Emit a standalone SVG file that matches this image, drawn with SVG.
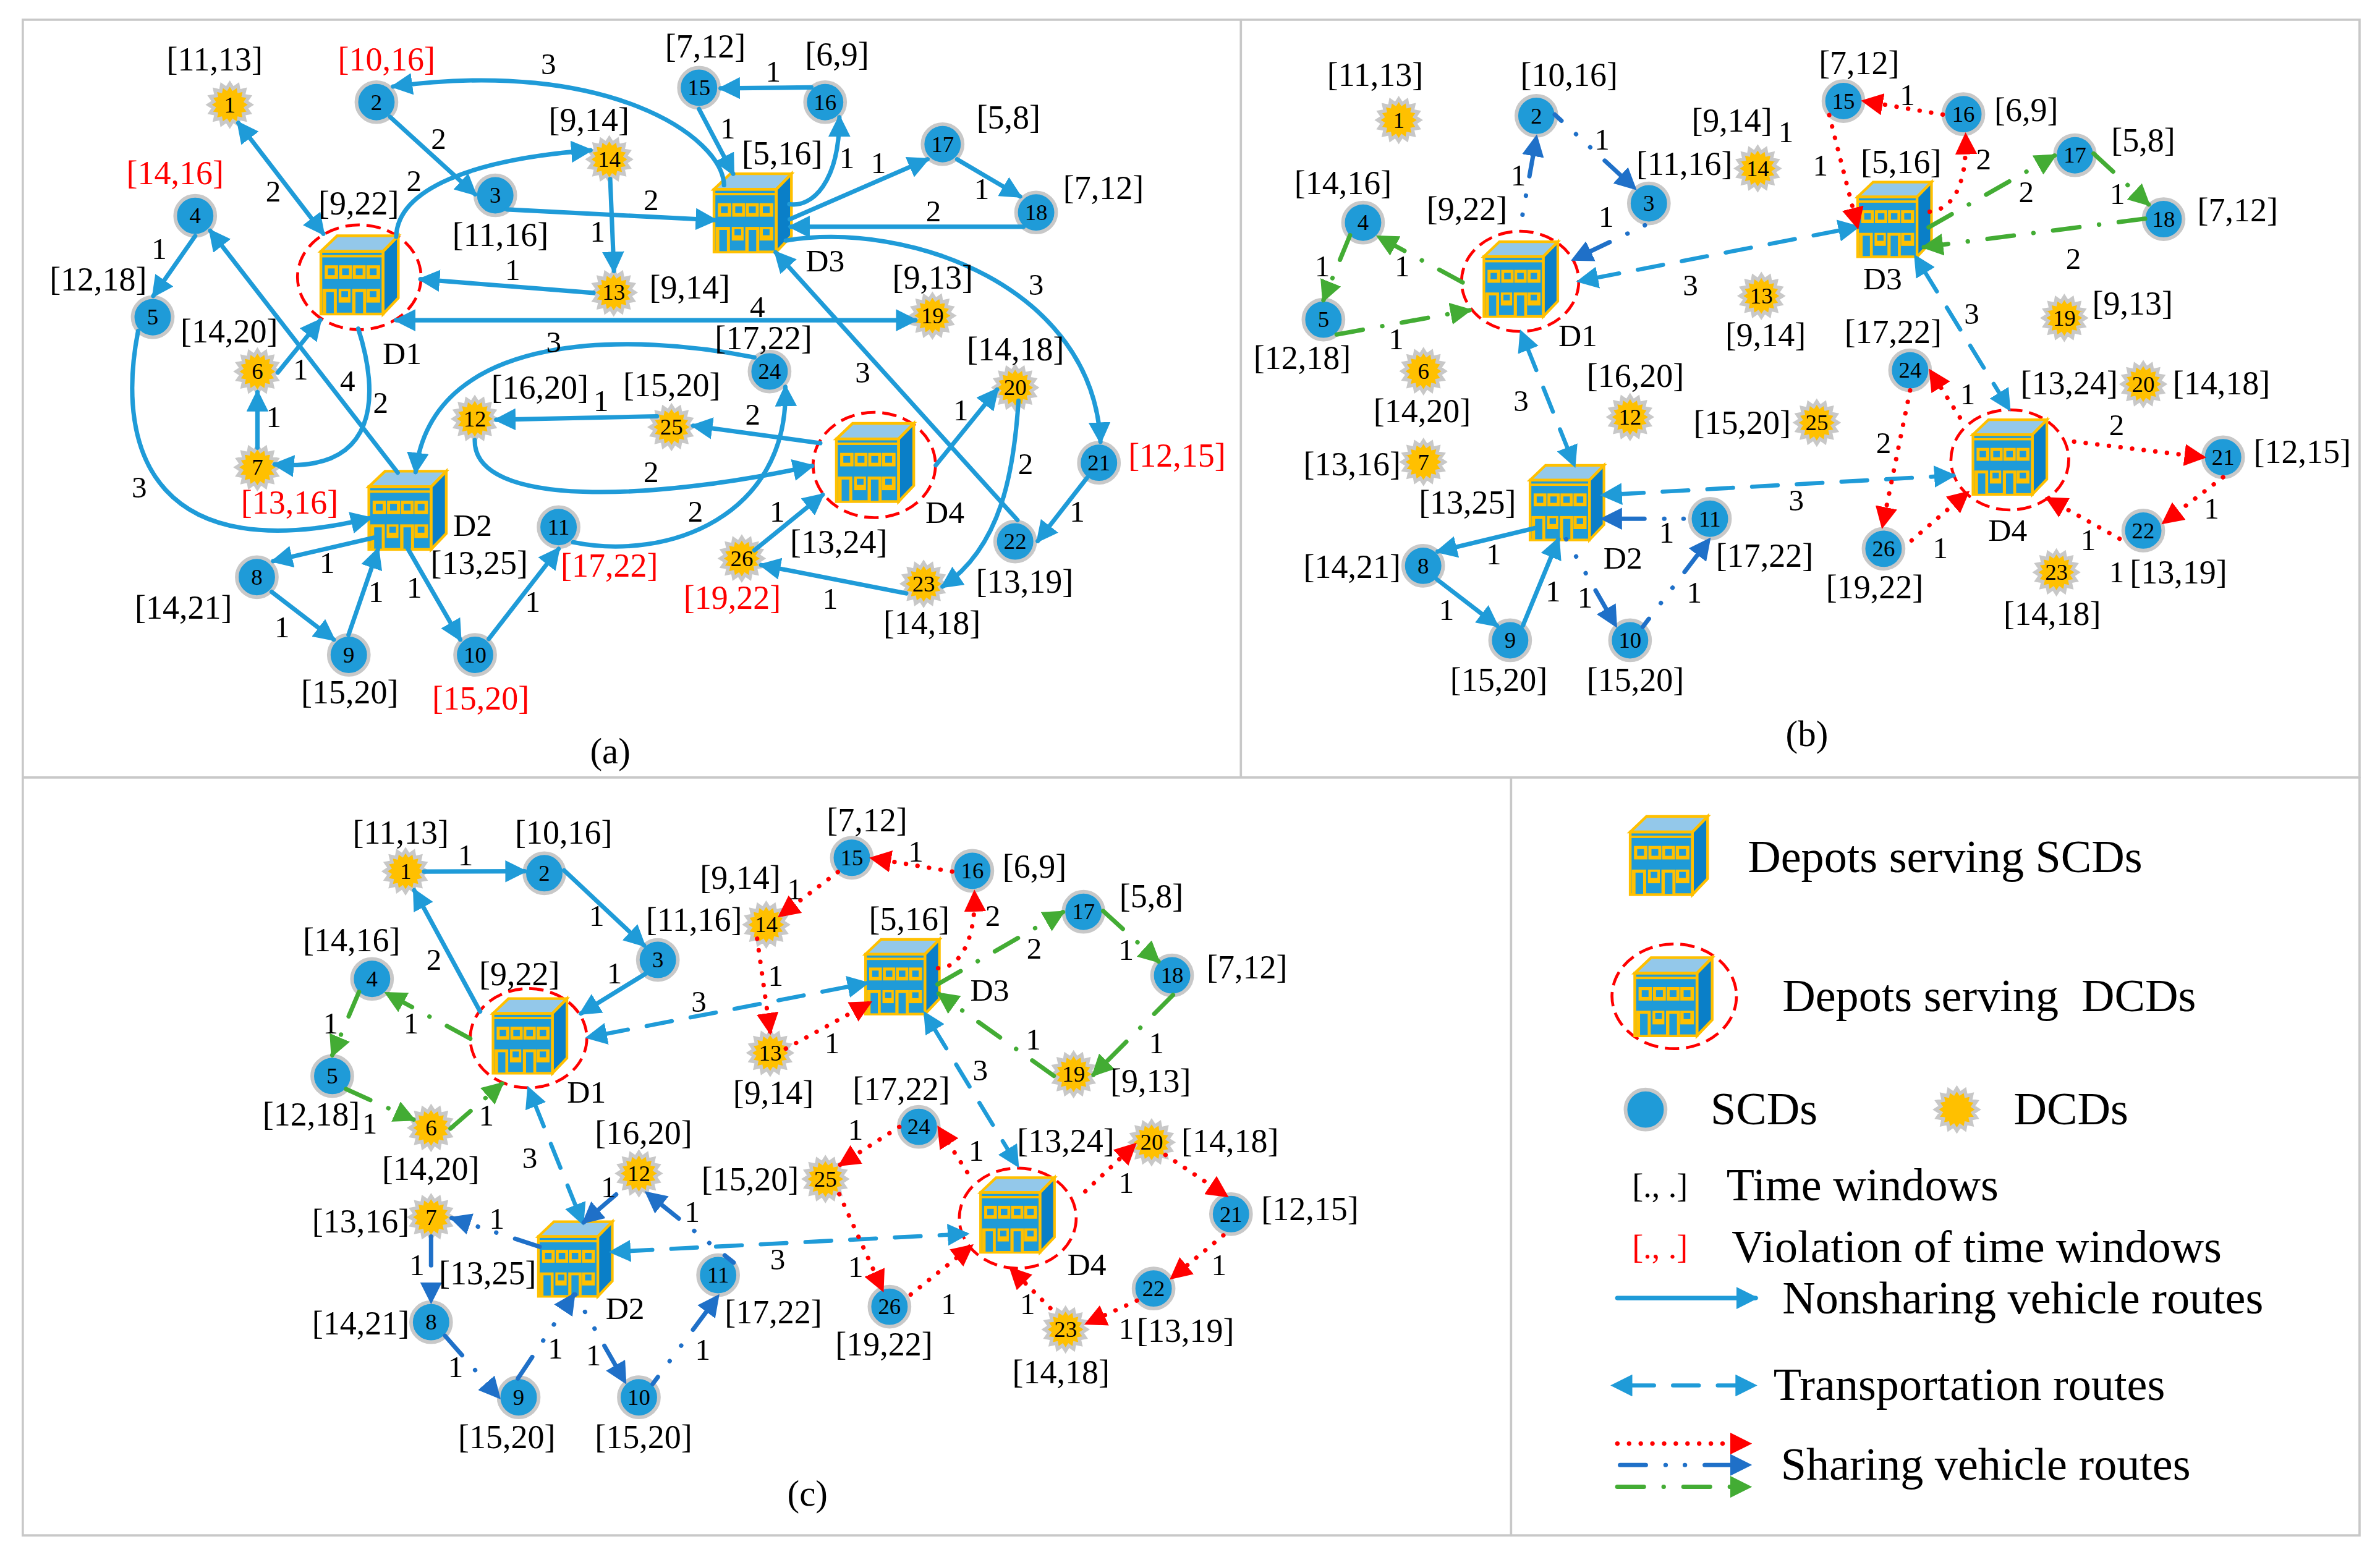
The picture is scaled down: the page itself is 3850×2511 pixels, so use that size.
<svg xmlns="http://www.w3.org/2000/svg" width="3850" height="2511" viewBox="0 0 3850 2511">
<style>
text{font-family:"Liberation Serif","Times New Roman",serif;fill:#000;text-anchor:middle}
.l{font-size:22px}.e{font-size:20px}.n{font-size:15px}.d{font-size:21px}.c{font-size:24px}
.lg{font-size:30.2px;text-anchor:start;white-space:pre}.br{font-size:22px;text-anchor:start;white-space:pre}
.red{fill:#f00}
.f{fill:none;stroke:#c8c8c8;stroke-width:1.5}
.ring{fill:none;stroke:#f00;stroke-width:1.9;stroke-dasharray:9.5 4.5}
path{fill:none;stroke-linecap:round}
.s{stroke:#1f9bd8;stroke-width:2.9;marker-end:url(#mb)}
.both{marker-start:url(#mb)}
.t{stroke:#1f9bd8;stroke-width:2.7;stroke-dasharray:17 12.5;stroke-dashoffset:19.5;marker-start:url(#mb);marker-end:url(#mb)}
.r{stroke:#f00;stroke-width:2.9;stroke-dasharray:.1 7.6;marker-end:url(#mr)}
.k{stroke:#1f70c8;stroke-width:2.9;stroke-dasharray:17 13 .1 12.6 .1 13;marker-end:url(#md)}
.g{stroke:#43ac34;stroke-width:2.9;stroke-dasharray:17.5 13 .1 13;marker-end:url(#mg)}
.scd{fill:#1f9bd8;stroke:#c8c8c8;stroke-width:2.4}
.star{fill:#ffc000;stroke:#c8c8c8;stroke-width:2.2}
.w{fill:#ffc000}.wb{fill:#1f9bd8}
</style>
<defs>
<marker id="mb" markerUnits="userSpaceOnUse" markerWidth="14.5" markerHeight="14.5" viewBox="0 0 12 12" refX="10.5" refY="6" orient="auto-start-reverse"><polygon points="0,0 12,6 0,12" fill="#1f9bd8"/></marker>
<marker id="mr" markerUnits="userSpaceOnUse" markerWidth="14.5" markerHeight="14.5" viewBox="0 0 12 12" refX="10.5" refY="6" orient="auto-start-reverse"><polygon points="0,0 12,6 0,12" fill="#f00"/></marker>
<marker id="md" markerUnits="userSpaceOnUse" markerWidth="14.5" markerHeight="14.5" viewBox="0 0 12 12" refX="10.5" refY="6" orient="auto-start-reverse"><polygon points="0,0 12,6 0,12" fill="#1f70c8"/></marker>
<marker id="mg" markerUnits="userSpaceOnUse" markerWidth="14.5" markerHeight="14.5" viewBox="0 0 12 12" refX="10.5" refY="6" orient="auto-start-reverse"><polygon points="0,0 12,6 0,12" fill="#43ac34"/></marker>
<g id="dep">
<polygon points="0,10.2 10.7,0 51,0 41,10.2" fill="#93c8ea"/>
<polygon points="41,10.2 51,0 51,41 41,51.5" fill="#0a7fc8"/>
<rect x="0" y="10.2" width="41" height="41.3" fill="#1f9bd8"/>
<g fill="none" stroke="#ffc000" stroke-width="1.8" stroke-linejoin="miter">
<polygon points="0,10.2 10.7,0 51,0 41,10.2"/><polygon points="41,10.2 51,0 51,41 41,51.5"/><rect x="0" y="10.2" width="41" height="41.3"/>
</g>
<rect class="w" x="0" y="12.6" width="41" height="1.6"/>
<rect class="w" x="2.5" y="19.4" width="8.8" height="8.9"/><rect class="w" x="12" y="19.4" width="8.5" height="8.9"/><rect class="w" x="21" y="19.4" width="8.5" height="8.9"/><rect class="w" x="30" y="19.4" width="9" height="8.9"/>
<rect class="wb" x="4.6" y="21.5" width="4.5" height="4.4"/><rect class="wb" x="14" y="21.5" width="4.5" height="4.4"/><rect class="wb" x="23" y="21.5" width="4.5" height="4.4"/><rect class="wb" x="32.2" y="21.5" width="4.5" height="4.4"/>
<rect class="w" x="1" y="35" width="9.5" height="16"/><rect class="wb" x="3.5" y="37" width="5" height="14"/>
<rect class="w" x="11.7" y="35" width="7.8" height="9"/><rect class="wb" x="13.5" y="36.5" width="4.4" height="4"/>
<rect class="w" x="20.6" y="35" width="9.2" height="16"/><rect class="wb" x="22.8" y="37" width="5" height="14"/>
<rect class="w" x="30" y="35" width="9" height="9"/><rect class="wb" x="32.2" y="36.5" width="4.4" height="4"/>
</g>
<polygon id="dcd" class="star" transform="scale(1.03)" points="13.5,0 10.3,2.05 12.47,5.17 8.73,5.84 9.55,9.55 5.84,8.73 5.17,12.47 2.05,10.3 0,13.5 -2.05,10.3 -5.17,12.47 -5.84,8.73 -9.55,9.55 -8.73,5.84 -12.47,5.17 -10.3,2.05 -13.5,0 -10.3,-2.05 -12.47,-5.17 -8.73,-5.84 -9.55,-9.55 -5.84,-8.73 -5.17,-12.47 -2.05,-10.3 0,-13.5 2.05,-10.3 5.17,-12.47 5.84,-8.73 9.55,-9.55 8.73,-5.84 12.47,-5.17 10.3,-2.05"/>
<circle id="scd" class="scd" r="13.2"/>
</defs>
<g transform="scale(2.4554)">
<g id="frames">
<rect class="f" x="15" y="13" width="1539.5" height="998.7"/>
<path class="f" d="M817.5,13V512.3M15,512.3H1554.5M995.5,512.3V1011.7"/>
</g>

<g id="panel-a-nodes">
<g id="a-D1"><ellipse class="ring" cx="236.7" cy="182.7" rx="40.7" ry="34.5"/><use href="#dep" transform="translate(211.4 155.4)"/><text class="d" x="264.9" y="240">D1</text></g>
<g id="a-D2"><use href="#dep" transform="translate(243 310.5)"/><text class="d" x="311.4" y="353.3">D2</text></g>
<g id="a-D3"><use href="#dep" transform="translate(470.4 114.5)"/><text class="d" x="543.6" y="178.7">D3</text></g>
<g id="a-D4"><ellipse class="ring" cx="576" cy="306.4" rx="40.3" ry="34.7"/><use href="#dep" transform="translate(551 279)"/><text class="d" x="622.5" y="344.6">D4</text></g>
<g id="a1" transform="translate(151.4 69)"><use href="#dcd"/><text class="n" y="5">1</text></g>
<g id="a2" transform="translate(248 67.3)"><use href="#scd"/><text class="n" y="5">2</text></g>
<g id="a3" transform="translate(326.3 128.7)"><use href="#scd"/><text class="n" y="5">3</text></g>
<g id="a4" transform="translate(128.6 142.2)"><use href="#scd"/><text class="n" y="5">4</text></g>
<g id="a5" transform="translate(100.6 209)"><use href="#scd"/><text class="n" y="5">5</text></g>
<g id="a6" transform="translate(169.6 244.8)"><use href="#dcd"/><text class="n" y="5">6</text></g>
<g id="a7" transform="translate(169.6 307.9)"><use href="#dcd"/><text class="n" y="5">7</text></g>
<g id="a8" transform="translate(169.2 380.3)"><use href="#scd"/><text class="n" y="5">8</text></g>
<g id="a9" transform="translate(229.8 431.5)"><use href="#scd"/><text class="n" y="5">9</text></g>
<g id="a10" transform="translate(313 431.5)"><use href="#scd"/><text class="n" y="5">10</text></g>
<g id="a11" transform="translate(368 347.3)"><use href="#scd"/><text class="n" y="5">11</text></g>
<g id="a12" transform="translate(312.8 276)"><use href="#dcd"/><text class="n" y="5">12</text></g>
<g id="a13" transform="translate(404.3 192.7)"><use href="#dcd"/><text class="n" y="5">13</text></g>
<g id="a14" transform="translate(401.4 105)"><use href="#dcd"/><text class="n" y="5">14</text></g>
<g id="a15" transform="translate(460.5 57.8)"><use href="#scd"/><text class="n" y="5">15</text></g>
<g id="a16" transform="translate(543.6 67.3)"><use href="#scd"/><text class="n" y="5">16</text></g>
<g id="a17" transform="translate(621 95)"><use href="#scd"/><text class="n" y="5">17</text></g>
<g id="a18" transform="translate(682.6 140)"><use href="#scd"/><text class="n" y="5">18</text></g>
<g id="a19" transform="translate(614.3 208)"><use href="#dcd"/><text class="n" y="5">19</text></g>
<g id="a20" transform="translate(668.8 255.4)"><use href="#dcd"/><text class="n" y="5">20</text></g>
<g id="a21" transform="translate(724 304.9)"><use href="#scd"/><text class="n" y="5">21</text></g>
<g id="a22" transform="translate(668.8 356.8)"><use href="#scd"/><text class="n" y="5">22</text></g>
<g id="a23" transform="translate(608.5 384.7)"><use href="#dcd"/><text class="n" y="5">23</text></g>
<g id="a24" transform="translate(507 244.8)"><use href="#scd"/><text class="n" y="5">24</text></g>
<g id="a25" transform="translate(442.4 281.4)"><use href="#dcd"/><text class="n" y="5">25</text></g>
<g id="a26" transform="translate(488.7 368)"><use href="#dcd"/><text class="n" y="5">26</text></g>
</g>

<g id="panel-b-nodes">
<g id="b-D1"><ellipse class="ring" cx="1001.5" cy="185.4" rx="38.6" ry="33"/><use href="#dep" transform="translate(977.6 159.3) scale(.955)"/><text class="d" x="1039.5" y="228">D1</text></g>
<g id="b-D2"><use href="#dep" transform="translate(1008 306.6) scale(.955)"/><text class="d" x="1069.2" y="374.8">D2</text></g>
<g id="b-D3"><use href="#dep" transform="translate(1223.8 120) scale(.955)"/><text class="d" x="1240.2" y="190.8">D3</text></g>
<g id="b-D4"><ellipse class="ring" cx="1324.1" cy="303" rx="38.8" ry="33"/><use href="#dep" transform="translate(1299.8 276.6) scale(.955)"/><text class="d" x="1322.7" y="356.4">D4</text></g>
<g id="b1" transform="translate(921.5 79.1)"><use href="#dcd"/><text class="n" y="5">1</text></g>
<g id="b2" transform="translate(1012.2 76.3)"><use href="#scd"/><text class="n" y="5">2</text></g>
<g id="b3" transform="translate(1086.3 134)"><use href="#scd"/><text class="n" y="5">3</text></g>
<g id="b4" transform="translate(898 146.7)"><use href="#scd"/><text class="n" y="5">4</text></g>
<g id="b5" transform="translate(871.9 210.6)"><use href="#scd"/><text class="n" y="5">5</text></g>
<g id="b6" transform="translate(937.8 244.6)"><use href="#dcd"/><text class="n" y="5">6</text></g>
<g id="b7" transform="translate(937.8 304.4)"><use href="#dcd"/><text class="n" y="5">7</text></g>
<g id="b8" transform="translate(937.6 372.8)"><use href="#scd"/><text class="n" y="5">8</text></g>
<g id="b9" transform="translate(994.9 421.9)"><use href="#scd"/><text class="n" y="5">9</text></g>
<g id="b10" transform="translate(1073.9 421.9)"><use href="#scd"/><text class="n" y="5">10</text></g>
<g id="b11" transform="translate(1126.5 341.8)"><use href="#scd"/><text class="n" y="5">11</text></g>
<g id="b12" transform="translate(1073.9 274.8)"><use href="#dcd"/><text class="n" y="5">12</text></g>
<g id="b13" transform="translate(1160.4 195)"><use href="#dcd"/><text class="n" y="5">13</text></g>
<g id="b14" transform="translate(1158 111)"><use href="#dcd"/><text class="n" y="5">14</text></g>
<g id="b15" transform="translate(1214.5 66.6)"><use href="#scd"/><text class="n" y="5">15</text></g>
<g id="b16" transform="translate(1293.5 75.2)"><use href="#scd"/><text class="n" y="5">16</text></g>
<g id="b17" transform="translate(1367 102.3)"><use href="#scd"/><text class="n" y="5">17</text></g>
<g id="b18" transform="translate(1425.4 144.4)"><use href="#scd"/><text class="n" y="5">18</text></g>
<g id="b19" transform="translate(1360 209.5)"><use href="#dcd"/><text class="n" y="5">19</text></g>
<g id="b20" transform="translate(1412 253.1)"><use href="#dcd"/><text class="n" y="5">20</text></g>
<g id="b21" transform="translate(1464.6 301.3)"><use href="#scd"/><text class="n" y="5">21</text></g>
<g id="b22" transform="translate(1412 349.6)"><use href="#scd"/><text class="n" y="5">22</text></g>
<g id="b23" transform="translate(1354.8 377.1)"><use href="#dcd"/><text class="n" y="5">23</text></g>
<g id="b24" transform="translate(1258.4 244)"><use href="#scd"/><text class="n" y="5">24</text></g>
<g id="b25" transform="translate(1196.9 278.5)"><use href="#dcd"/><text class="n" y="5">25</text></g>
<g id="b26" transform="translate(1240.9 361.6)"><use href="#scd"/><text class="n" y="5">26</text></g>
</g>

<g id="panel-c-nodes">
<g id="c-D1"><ellipse class="ring" cx="348.2" cy="684.1" rx="38.4" ry="32.7"/><use href="#dep" transform="translate(324.8 658) scale(.955)"/><text class="d" x="386.4" y="726.5">D1</text></g>
<g id="c-D2"><use href="#dep" transform="translate(354.7 805) scale(.955)"/><text class="d" x="411.8" y="869">D2</text></g>
<g id="c-D3"><use href="#dep" transform="translate(570.2 619) scale(.955)"/><text class="d" x="652" y="659.5">D3</text></g>
<g id="c-D4"><ellipse class="ring" cx="670.5" cy="802.7" rx="38.5" ry="33"/><use href="#dep" transform="translate(646 776) scale(.955)"/><text class="d" x="716" y="840">D4</text></g>
<g id="c1" transform="translate(267.2 574.1)"><use href="#dcd"/><text class="n" y="5">1</text></g>
<g id="c2" transform="translate(358.6 575.4)"><use href="#scd"/><text class="n" y="5">2</text></g>
<g id="c3" transform="translate(433.4 632.5)"><use href="#scd"/><text class="n" y="5">3</text></g>
<g id="c4" transform="translate(245.1 645)"><use href="#scd"/><text class="n" y="5">4</text></g>
<g id="c5" transform="translate(218.9 709)"><use href="#scd"/><text class="n" y="5">5</text></g>
<g id="c6" transform="translate(284 743.2)"><use href="#dcd"/><text class="n" y="5">6</text></g>
<g id="c7" transform="translate(284 802)"><use href="#dcd"/><text class="n" y="5">7</text></g>
<g id="c8" transform="translate(284 871.2)"><use href="#scd"/><text class="n" y="5">8</text></g>
<g id="c9" transform="translate(341.7 920.7)"><use href="#scd"/><text class="n" y="5">9</text></g>
<g id="c10" transform="translate(420.9 920.7)"><use href="#scd"/><text class="n" y="5">10</text></g>
<g id="c11" transform="translate(473.1 840.2)"><use href="#scd"/><text class="n" y="5">11</text></g>
<g id="c12" transform="translate(420.9 773.2)"><use href="#dcd"/><text class="n" y="5">12</text></g>
<g id="c13" transform="translate(507.4 693.8)"><use href="#dcd"/><text class="n" y="5">13</text></g>
<g id="c14" transform="translate(504.8 609.3)"><use href="#dcd"/><text class="n" y="5">14</text></g>
<g id="c15" transform="translate(561.2 565.2)"><use href="#scd"/><text class="n" y="5">15</text></g>
<g id="c16" transform="translate(640.6 573.8)"><use href="#scd"/><text class="n" y="5">16</text></g>
<g id="c17" transform="translate(713.8 600.8)"><use href="#scd"/><text class="n" y="5">17</text></g>
<g id="c18" transform="translate(772.2 642.7)"><use href="#scd"/><text class="n" y="5">18</text></g>
<g id="c19" transform="translate(707.3 707.8)"><use href="#dcd"/><text class="n" y="5">19</text></g>
<g id="c20" transform="translate(758.7 752.7)"><use href="#dcd"/><text class="n" y="5">20</text></g>
<g id="c21" transform="translate(811 800)"><use href="#scd"/><text class="n" y="5">21</text></g>
<g id="c22" transform="translate(760 849)"><use href="#scd"/><text class="n" y="5">22</text></g>
<g id="c23" transform="translate(702 876)"><use href="#dcd"/><text class="n" y="5">23</text></g>
<g id="c24" transform="translate(605.3 742.5)"><use href="#scd"/><text class="n" y="5">24</text></g>
<g id="c25" transform="translate(543.8 776.9)"><use href="#dcd"/><text class="n" y="5">25</text></g>
<g id="c26" transform="translate(586 861)"><use href="#scd"/><text class="n" y="5">26</text></g>
</g>

<g id="connectors">
<g id="a-routes">
<path class="s both" d="M157,81L213,154"/>
<path class="s" d="M257,77L313,128"/>
<path class="s" d="M477,122C476,90 400,38 259,57"/>
<path class="s" d="M261,156C262,125 310,105 389,99"/>
<path class="s" d="M402,118L404.5,178.5"/>
<path class="s" d="M391,193L277,184"/>
<path class="s" d="M334,138L471,145"/>
<path class="s both" d="M261,211H603"/>
<path class="s" d="M262,311.4L138.5,152"/>
<path class="s" d="M128.6,155.5L101,195"/>
<path class="s" d="M183,245.5L211,211"/>
<path class="s" d="M169.6,295V258.4"/>
<path class="s" d="M236,216.5C250,260 250,312 181,306"/>
<path class="s" d="M91,218C75,300 105,375 243.8,341.4"/>
<path class="s" d="M460.5,71.8L483,114.5"/>
<path class="s" d="M534.6,57.6L474.8,58.2"/>
<path class="s" d="M520,134.5C535,137 553,120 553,77.3"/>
<path class="s" d="M520.3,144.5L611,105"/>
<path class="s" d="M630.6,105L672,129.4"/>
<path class="s" d="M674.3,149.4H520.8"/>
<path class="s" d="M517.7,158.5C600,145 720,190 725,291"/>
<path class="s" d="M670.3,342.7L511,166.3"/>
<path class="s" d="M432.8,274.3L327,276.6"/>
<path class="s" d="M540.4,292L456.7,280.5"/>
<path class="s" d="M312.8,290C312,335 430,330 535,307"/>
<path class="s" d="M497,235.5C420,220 285,215 273.8,311"/>
<path class="s" d="M377.6,357.3C440,370 520,340 517.4,255"/>
<path class="s" d="M616.5,306.6L656.9,256.7"/>
<path class="s" d="M671,264C668,310 660,360 621,386.5"/>
<path class="s" d="M597,391L501.5,372.3"/>
<path class="s" d="M497,362.6L542,326"/>
<path class="s" d="M716,315L683.7,356.5"/>
<path class="s" d="M246.2,354.3L180,369.7"/>
<path class="s" d="M179,390L219.9,421.4"/>
<path class="s" d="M229.6,418.3L249,362"/>
<path class="s" d="M268.6,361.4L303.2,421.4"/>
<path class="s" d="M322,421L368,361.7"/>
</g>
<g id="b-routes">
<path class="s" d="M1011.5,347.9L947.2,363.4"/>
<path class="s" d="M946.7,381.8L986.2,412.2"/>
<path class="s" d="M1003.3,412.2L1026.7,355.3"/>
<path class="t" d="M1040.2,185.3L1223.8,149.5"/>
<path class="t" d="M1002.1,218.8L1037.2,306.6"/>
<path class="t" d="M1055.9,326.2L1287,313.3"/>
<path class="t" d="M1261.9,169L1323.7,269.6"/>
<path class="k" style="stroke-dashoffset:18.3" d="M1001,153L1012.2,90.3"/>
<path class="k" style="stroke-dashoffset:11" d="M1024.3,75.5L1077,124.1"/>
<path class="k" style="stroke-dashoffset:30" d="M1083.7,148.4L1036.5,171"/>
<path class="k" style="stroke-dashoffset:30" d="M1109.2,341.8H1055.9"/>
<path class="k" style="stroke-dashoffset:16.9" d="M1031.8,355.3L1064.5,412.2"/>
<path class="k" style="stroke-dashoffset:10.4" d="M1082.3,413L1126,355.6"/>
<path class="g" d="M880.6,220.4L968.2,204.4"/>
<path class="g" d="M963.6,186.1L908.1,156"/>
<path class="g" d="M889.4,155L871.9,197.8"/>
<path class="g" d="M1270.6,149.8L1353.6,102.5"/>
<path class="g" d="M1379.3,101.2L1415.5,134.7"/>
<path class="g" d="M1413.2,144.1L1267.5,162.8"/>
<path class="r" d="M1279.9,75.5L1227.8,66.6"/>
<path class="r" d="M1205.1,75.8L1223.8,149.5"/>
<path class="r" d="M1271.3,139.5C1285,138 1296,125 1295,89"/>
<path class="r" d="M1366.4,291L1451.8,301.3"/>
<path class="r" d="M1464.6,314.4L1425.4,344.4"/>
<path class="r" d="M1396.4,355L1348.9,328.4"/>
<path class="r" d="M1259.4,356.1L1296.3,324.5"/>
<path class="r" d="M1258.4,257.2L1240.2,346.8"/>
<path class="r" d="M1291.2,275.1L1271.8,244.5"/>
</g>
<g id="c-routes">
<path class="s" d="M279.4,574.3L345.6,574.1"/>
<path class="s" d="M371.6,573.5L424.3,622.9"/>
<path class="s" d="M425.3,641.6L382.7,667.8"/>
<path class="s" d="M316.3,666.5L272.9,586.6"/>
<path class="t" d="M387.2,683.6L571,647.8"/>
<path class="t" d="M348.2,717.1L383.8,805.8"/>
<path class="t" d="M402.8,824.9L637,813"/>
<path class="t" d="M609.4,667.7L670.4,768"/>
<path class="g" d="M309.8,684.4L254.7,654.5"/>
<path class="g" d="M236.5,653.6L218.9,695.3"/>
<path class="g" d="M228,717.6L272.4,737.7"/>
<path class="g" d="M296.8,743.6L330.8,714"/>
<path class="g" d="M617.7,648.6L700.3,601"/>
<path class="g" d="M726.8,600.3L763.2,633.5"/>
<path class="g" d="M772.8,655.6L720.3,708.3"/>
<path class="g" d="M694.3,708.9L618.5,654.8"/>
<path class="r" d="M627.3,574.3L574.4,565.5"/>
<path class="r" d="M552,574.6L513.8,603.4"/>
<path class="r" d="M498.8,618.5L507.4,680.2"/>
<path class="r" d="M517.7,691L573.1,660.6"/>
<path class="r" d="M618,638C632,638 643,620 642,588"/>
<path class="r" d="M592.5,742.5L553.5,767.5"/>
<path class="r" d="M637.2,772.4L618.5,743.2"/>
<path class="r" d="M552.9,786.8L581.4,849.9"/>
<path class="r" d="M600,853L640,821"/>
<path class="r" d="M715,785L747.6,754.2"/>
<path class="r" d="M767.8,761L808,788"/>
<path class="r" d="M806,814L772,842"/>
<path class="r" d="M749,857L716,872"/>
<path class="r" d="M692,862L666,836"/>
<path class="k" d="M355.5,821.5L297.6,802.6"/>
<path class="k" style="stroke-dasharray:19 60" d="M284,814.8V857.6"/>
<path class="k" d="M293.2,880.2L328.7,920.7"/>
<path class="k" d="M341.2,908.3L378.1,853"/>
<path class="k" style="stroke-dashoffset:16.9" d="M378.9,853L411.8,910.6"/>
<path class="k" style="stroke-dashoffset:11.3" d="M430,911.9L472.9,854.2"/>
<path class="k" style="stroke-dashoffset:9.5" d="M483.3,831.9L426.1,786"/>
<path class="k" style="stroke-dasharray:none" d="M405.9,787.1L384.6,805.4"/>
</g>
</g>

<g id="labels-a">
<text class="l" x="141.4" y="46.5">[11,13]</text><text class="l red" x="254.6" y="46.5">[10,16]</text><text class="l" x="388" y="86.4">[9,14]</text><text class="l" x="236.3" y="141.4">[9,22]</text><text class="l red" x="115.4" y="121.3">[14,16]</text><text class="l" x="329.7" y="162.2">[11,16]</text><text class="l" x="64.7" y="191.3">[12,18]</text><text class="l" x="454.4" y="196.7">[9,14]</text><text class="l" x="151" y="225.8">[14,20]</text><text class="l" x="464.7" y="37.8">[7,12]</text><text class="l" x="551.4" y="43.3">[6,9]</text><text class="l" x="515.3" y="108.2">[5,16]</text><text class="l" x="664.4" y="84.9">[5,8]</text><text class="l" x="727" y="131.3">[7,12]</text><text class="l" x="614.5" y="190.3">[9,13]</text><text class="l" x="503" y="230.3">[17,22]</text><text class="l" x="669" y="237.6">[14,18]</text><text class="l" x="442.6" y="260.9">[15,20]</text><text class="l" x="355.7" y="262.7">[16,20]</text><text class="l red" x="190.8" y="338.4">[13,16]</text><text class="l" x="315.7" y="378.5">[13,25]</text><text class="l" x="120.9" y="407.7">[14,21]</text><text class="l" x="230.4" y="463.6">[15,20]</text><text class="l red" x="316.7" y="467.7">[15,20]</text><text class="l red" x="401.5" y="380.1">[17,22]</text><text class="l" x="552.6" y="364.4">[13,24]</text><text class="l red" x="482.4" y="401">[19,22]</text><text class="l" x="614" y="417.7">[14,18]</text><text class="l" x="675" y="390.5">[13,19]</text><text class="l red" x="775.4" y="307.5">[12,15]</text>
<text class="e" x="180" y="132.7">2</text><text class="e" x="289" y="98">2</text><text class="e" x="361.4" y="48.7">3</text><text class="e" x="272.8" y="126">2</text><text class="e" x="429" y="138.5">2</text><text class="e" x="393.7" y="159.4">1</text><text class="e" x="337.7" y="184.5">1</text><text class="e" x="104.9" y="170.5">1</text><text class="e" x="198" y="250">1</text><text class="e" x="229" y="258">4</text><text class="e" x="250.8" y="272">2</text><text class="e" x="180.3" y="281.4">1</text><text class="e" x="364.8" y="232">3</text><text class="e" x="396" y="270.9">1</text><text class="e" x="479.5" y="91.4">1</text><text class="e" x="509.4" y="53.6">1</text><text class="e" x="558" y="110.9">1</text><text class="e" x="578.7" y="114.2">1</text><text class="e" x="646.7" y="131.3">1</text><text class="e" x="615" y="146">2</text><text class="e" x="682.6" y="194.2">3</text><text class="e" x="499" y="209">4</text><text class="e" x="568.3" y="252.3">3</text><text class="e" x="496" y="279.6">2</text><text class="e" x="429" y="317.6">2</text><text class="e" x="458.2" y="343.7">2</text><text class="e" x="633" y="277">1</text><text class="e" x="675.7" y="312.3">2</text><text class="e" x="512" y="343.7">1</text><text class="e" x="709.7" y="343.7">1</text><text class="e" x="547" y="401">1</text><text class="e" x="351" y="403">1</text><text class="e" x="91.7" y="327.7">3</text><text class="e" x="215.6" y="377.6">1</text><text class="e" x="185.8" y="419.7">1</text><text class="e" x="247.7" y="396.5">1</text><text class="e" x="273" y="393.9">1</text>
<text class="c" x="402" y="503">(a)</text>
</g>

<g id="labels-b">
<text class="l" x="906" y="56.8">[11,13]</text><text class="l" x="1033.7" y="56.8">[10,16]</text><text class="l" x="1141" y="86.7">[9,14]</text><text class="l" x="1109.7" y="115.2">[11,16]</text><text class="l" x="884.8" y="127.7">[14,16]</text><text class="l" x="966.4" y="145.1">[9,22]</text><text class="l" x="857.9" y="243.3">[12,18]</text><text class="l" x="1163.2" y="228.2">[9,14]</text><text class="l" x="1077.4" y="255">[16,20]</text><text class="l" x="1224.8" y="48.7">[7,12]</text><text class="l" x="1334.9" y="79.9">[6,9]</text><text class="l" x="1412" y="99.7">[5,8]</text><text class="l" x="1252.4" y="114">[5,16]</text><text class="l" x="1474.2" y="145.6">[7,12]</text><text class="l" x="1405" y="207.2">[9,13]</text><text class="l" x="1247.2" y="225.9">[17,22]</text><text class="l" x="1363.2" y="260">[13,24]</text><text class="l" x="1463.5" y="260">[14,18]</text><text class="l" x="936.9" y="278.2">[14,20]</text><text class="l" x="890.8" y="313.3">[13,16]</text><text class="l" x="966.8" y="338.5">[13,25]</text><text class="l" x="1147.8" y="285.7">[15,20]</text><text class="l" x="890.8" y="380.6">[14,21]</text><text class="l" x="1162.5" y="373.6">[17,22]</text><text class="l" x="987.4" y="455.5">[15,20]</text><text class="l" x="1077.4" y="455.5">[15,20]</text><text class="l" x="1516.8" y="305.2">[12,15]</text><text class="l" x="1435.2" y="384.6">[13,19]</text><text class="l" x="1235" y="394.3">[19,22]</text><text class="l" x="1352" y="411.9">[14,18]</text>
<text class="e" x="1000.3" y="122">1</text><text class="e" x="1055.4" y="98.4">1</text><text class="e" x="1058.2" y="149.5">1</text><text class="e" x="923.8" y="182.2">1</text><text class="e" x="871.2" y="182.2">1</text><text class="e" x="919.8" y="230">1</text><text class="e" x="1113.7" y="194.7">3</text><text class="e" x="1256.6" y="69.3">1</text><text class="e" x="1199.3" y="115.5">1</text><text class="e" x="1306.8" y="111.6">2</text><text class="e" x="1334.9" y="133.2">2</text><text class="e" x="1395" y="134.2">1</text><text class="e" x="1366" y="177.2">2</text><text class="e" x="1299" y="213.4">3</text><text class="e" x="1176.6" y="93.7">1</text><text class="e" x="1002.1" y="270.9">3</text><text class="e" x="984.1" y="371.7">1</text><text class="e" x="953" y="408.3">1</text><text class="e" x="1023.2" y="396.3">1</text><text class="e" x="1044.2" y="400.5">1</text><text class="e" x="1116.2" y="397">1</text><text class="e" x="1098" y="357.7">1</text><text class="e" x="1296.3" y="266.2">1</text><text class="e" x="1394.5" y="286.8">2</text><text class="e" x="1240.9" y="298.6">2</text><text class="e" x="1183.4" y="336.3">3</text><text class="e" x="1457" y="341.8">1</text><text class="e" x="1278.3" y="367.8">1</text><text class="e" x="1375.8" y="362.3">1</text><text class="e" x="1394.5" y="383.8">1</text>
<text class="c" x="1190.4" y="491.6">(b)</text>
</g>

<g id="labels-c">
<text class="l" x="264" y="555.9">[11,13]</text><text class="l" x="371.3" y="555.9">[10,16]</text><text class="l" x="571.2" y="547.8">[7,12]</text><text class="l" x="487.7" y="585.5">[9,14]</text><text class="l" x="457.3" y="613.5">[11,16]</text><text class="l" x="231.6" y="626.8">[14,16]</text><text class="l" x="342.2" y="649">[9,22]</text><text class="l" x="205.1" y="741.8">[12,18]</text><text class="l" x="509.5" y="727.3">[9,14]</text><text class="l" x="599" y="612.8">[5,16]</text><text class="l" x="681.6" y="578.2">[6,9]</text><text class="l" x="758.5" y="598">[5,8]</text><text class="l" x="821.6" y="644.7">[7,12]</text><text class="l" x="758" y="719.5">[9,13]</text><text class="l" x="593.8" y="724.9">[17,22]</text><text class="l" x="702.1" y="759.2">[13,24]</text><text class="l" x="810.4" y="759.2">[14,18]</text><text class="l" x="424" y="754">[16,20]</text><text class="l" x="283.8" y="777.4">[14,20]</text><text class="l" x="494.2" y="784.4">[15,20]</text><text class="l" x="237.6" y="812.1">[13,16]</text><text class="l" x="321.2" y="846.3">[13,25]</text><text class="l" x="237.6" y="879.1">[14,21]</text><text class="l" x="509.5" y="872">[17,22]</text><text class="l" x="333.9" y="954.2">[15,20]</text><text class="l" x="424" y="954.2">[15,20]</text><text class="l" x="582.4" y="893.2">[19,22]</text><text class="l" x="863" y="804">[12,15]</text><text class="l" x="781" y="884">[13,19]</text><text class="l" x="699" y="911.5">[14,18]</text>
<text class="e" x="306.7" y="570.2">1</text><text class="e" x="393.1" y="610.1">1</text><text class="e" x="404.8" y="648.1">1</text><text class="e" x="285.9" y="638.8">2</text><text class="e" x="270.8" y="681">1</text><text class="e" x="217.8" y="681">1</text><text class="e" x="243.6" y="747">1</text><text class="e" x="320.4" y="741.6">1</text><text class="e" x="523.5" y="592.5">1</text><text class="e" x="511" y="649.7">1</text><text class="e" x="460.4" y="666.5">3</text><text class="e" x="548.2" y="694.1">1</text><text class="e" x="349" y="769.6">3</text><text class="e" x="603.4" y="567.9">1</text><text class="e" x="654.1" y="609.9">2</text><text class="e" x="681.4" y="631.5">2</text><text class="e" x="741.9" y="632.5">1</text><text class="e" x="761.9" y="694.1">1</text><text class="e" x="680.8" y="691.4">1</text><text class="e" x="645.8" y="712">3</text><text class="e" x="563.7" y="751">1</text><text class="e" x="643.2" y="765">1</text><text class="e" x="400.9" y="788.8">1</text><text class="e" x="456" y="805">1</text><text class="e" x="327.4" y="809.7">1</text><text class="e" x="274.7" y="840.2">1</text><text class="e" x="300.2" y="907.2">1</text><text class="e" x="365.9" y="895.3">1</text><text class="e" x="391" y="899.7">1</text><text class="e" x="463" y="895.8">1</text><text class="e" x="512.3" y="836.6">3</text><text class="e" x="563.8" y="841.3">1</text><text class="e" x="625" y="866">1</text><text class="e" x="742" y="786">1</text><text class="e" x="803" y="840">1</text><text class="e" x="742" y="882">1</text><text class="e" x="677" y="866">1</text>
<text class="c" x="532" y="992">(c)</text>
</g>

<g id="legend">
<g id="lg-depot"><use href="#dep" transform="translate(1074 538)"/><text class="lg" x="1151.4" y="574.6">Depots serving SCDs</text></g>
<g id="lg-depot-ring"><ellipse class="ring" cx="1103" cy="656.5" rx="41" ry="34.5"/><use href="#dep" transform="translate(1077 631)"/><text class="lg" x="1174.2" y="666.3">Depots serving  DCDs</text></g>
<g id="lg-scd"><use href="#scd" transform="translate(1084.1 731.1)"/><text class="lg" x="1126.9" y="741">SCDs</text></g>
<g id="lg-dcd"><use href="#dcd" transform="translate(1289.2 731.1)"/><text class="lg" x="1326.7" y="741">DCDs</text></g>
<text class="br" x="1075.3" y="789">[., .]</text><text class="lg" x="1137.4" y="790.8">Time windows</text>
<text class="br red" x="1075.3" y="829">[., .]</text><text class="lg" x="1140.9" y="831.7">Violation of time windows</text>
<path class="s" d="M1065.5,855.3H1156.7"/><text class="lg" x="1174.2" y="865.4">Nonsharing vehicle routes</text>
<path class="t" d="M1062.7,912.9H1156"/><text class="lg" x="1168.3" y="922.4">Transportation routes</text>
<path class="r" d="M1065.5,951.2H1152.5"/>
<path class="k" d="M1067.3,965.3H1152.5"/>
<path class="g" d="M1065.5,979.7H1152.5"/>
<text class="lg" x="1173.2" y="974.8">Sharing vehicle routes</text>
</g>
</g>
</svg>
